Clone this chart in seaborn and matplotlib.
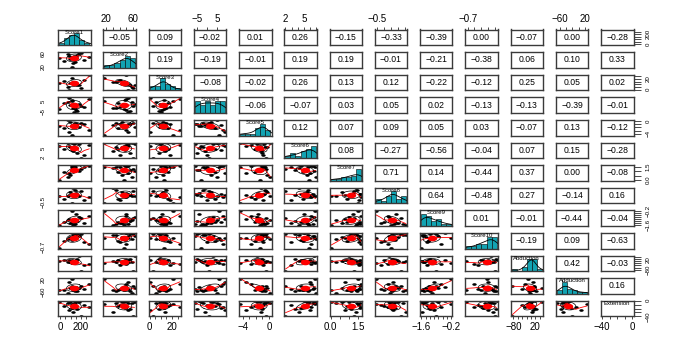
import numpy as np
import pandas as pd
import matplotlib
matplotlib.use("Agg")
import matplotlib.pyplot as plt
from matplotlib.path import Path
import seaborn as sns

# ---------------- data ----------------
names = ["Score1", "Score2", "Score3", "Score4", "Score5", "Score6", "Score7",
         "Score8", "Score9", "Score10", "Abduction", "Adduction", "Extension"]

score1 = [135, 40, 200, -10, 110, 165, 95, 280, 125, 70, 150, 230, 85, 140, 180, 118]
score2 = [52, 38, 60, 47, 18, 55, 44, 50, 30, 58, 49, 41, 53, 35, 62, 48]
score3 = [10, 16, 3, 13, 21, 8, 12, 27, 14, 6, 11, 18, 0, 15, 9, 13]
score4 = [-6, 4, 1, -3, 6, -5, 2, 8, -1, 5, -4, 0, 9, -2, 3, 7]
score5 = [-0.8, -2.1, -0.5, -1.4, -4.4, -1.0, -0.3, -2.8, -1.2, 0.2, -1.7, -0.9, -3.5, -0.6, -1.9, -1.1]
score6 = [6.5, 4.8, 2.0, 5.9, 6.8, 3.6, 5.5, 6.2, 4.2, 6.9, 5.1, 2.9, 6.0, 5.7, 6.6, 4.5]
score7 = [1.6, 0.9, 1.3, 0.0, 1.5, 1.1, 0.6, 1.65, 1.4, 0.3, 1.2, 1.55, 0.8, 1.45, 1.0, 1.6]
score8 = [-0.25, -0.40, -0.15, -0.30, -0.52, -0.28, -0.20, -0.35, -0.08, -0.32, -0.22, -0.45, -0.27, -0.12, -0.33, -0.24]
score9 = [-1.5, -1.3, -0.9, -1.6, -0.2, -1.2, -1.4, -0.7, -1.55, -1.1, -0.5, -1.35, -1.0, -1.45, -0.8, -1.25]
score10 = [-0.35, -0.50, -0.30, -0.72, -0.42, -0.28, -0.38, -0.60, -0.33, -0.45, -0.27, -0.55, -0.40, -0.31, -0.36, -0.48]
abduction = [-5, 10, -88, 2, -15, 25, 0, -25, 5, -2, 15, -40, 8, -8, 50, 12]
adduction = [-40, -50, -20, -45, 25, -55, -35, -10, -48, -68, -30, -42, 5, -52, -38, -25]
extension = [-5, -12, -40, -3, -8, -20, -2, -15, -30, -6, 0, -10, -25, -4, -1, -18]

# correlations printed in the upper panels (row by row, right of diagonal)
cor_upper = [
    [-0.05, 0.09, -0.02, 0.01, 0.26, -0.15, -0.33, -0.39, 0.00, -0.07, 0.00, -0.28],
    [0.19, -0.19, -0.01, 0.19, 0.19, -0.01, -0.21, -0.38, 0.06, 0.10, 0.33],
    [-0.08, -0.02, 0.26, 0.13, 0.12, -0.22, -0.12, 0.25, 0.05, 0.02],
    [-0.06, -0.07, 0.03, 0.05, 0.02, -0.13, -0.13, -0.39, -0.01],
    [0.12, 0.07, 0.09, 0.05, 0.03, -0.07, 0.13, -0.12],
    [0.08, -0.27, -0.56, -0.04, 0.07, 0.15, -0.28],
    [0.71, 0.14, -0.44, 0.37, 0.00, -0.08],
    [0.64, -0.48, 0.27, -0.14, 0.16],
    [0.01, -0.01, -0.44, -0.04],
    [-0.19, 0.09, -0.63],
    [0.42, -0.03],
    [0.16],
]

# axis ticks and which tick labels are printed
axis_ticks = [
    [0, 50, 100, 150, 200, 250],
    [20, 30, 40, 50, 60],
    [0, 5, 10, 15, 20, 25],
    [-5, 0, 5],
    [-4, -3, -2, -1, 0],
    [2, 3, 4, 5, 6, 7],
    [0.0, 0.5, 1.0, 1.5],
    [-0.5, -0.4, -0.3, -0.2, -0.1],
    [-1.6, -1.4, -1.2, -1.0, -0.8, -0.6, -0.4, -0.2],
    [-0.7, -0.6, -0.5, -0.4, -0.3],
    [-80, -60, -40, -20, 0, 20, 40],
    [-60, -40, -20, 0, 20],
    [-40, -30, -20, -10, 0],
]
axis_labels = [
    ["0", "", "", "", "200", ""],
    ["20", "", "", "", "60"],
    ["0", "", "", "", "20", ""],
    ["\u22125", "", "5"],
    ["\u22124", "", "", "", "0"],
    ["2", "", "", "5", "", ""],
    ["0.0", "", "", "1.5"],
    ["\u22120.5", "", "", "", ""],
    ["\u22121.6", "", "", "", "", "", "", "\u22120.2"],
    ["\u22120.7", "", "", "", ""],
    ["\u221280", "", "", "", "", "20", ""],
    ["\u221260", "", "", "", "20"],
    ["\u221240", "", "", "", "0"],
]

df = pd.DataFrame(dict(zip(names, [score1, score2, score3, score4, score5, score6, score7,
                                   score8, score9, score10, abduction, adduction, extension])))

# ---------------- helpers ----------------
def lowess(x, y, f=2/3):
    x = np.asarray(x, float); y = np.asarray(y, float)
    o = np.argsort(x); x = x[o]; y = y[o]
    n = len(x); k = max(2, int(np.ceil(f * n)))
    out = np.empty(n)
    for i in range(n):
        d = np.abs(x - x[i]); h = np.sort(d)[k - 1]
        if h <= 0: h = 1e-12
        w = np.clip(1 - (d / h) ** 3, 0, None) ** 3
        W = np.sum(w)
        xm = np.sum(w * x) / W; ym = np.sum(w * y) / W
        sxx = np.sum(w * (x - xm) ** 2)
        b = np.sum(w * (x - xm) * (y - ym)) / sxx if sxx > 0 else 0
        out[i] = ym + b * (x[i] - xm)
    return x, out

def ellipse_pts(x, y):
    x = np.asarray(x, float); y = np.asarray(y, float)
    xm, ym = x.mean(), y.mean(); xs, ys = x.std(ddof=1), y.std(ddof=1)
    r = np.corrcoef(x, y)[0, 1]
    t = np.linspace(0, 2 * np.pi, 52)
    circ = np.column_stack([np.cos(t), np.sin(t)])
    th = (np.sign(r) if abs(r) > 0 else 1) / np.sqrt(2)
    shape = np.diag([np.sqrt(1 + r), np.sqrt(1 - r)]) @ np.array([[th, th], [-th, th]])
    e = circ @ shape
    return e[:, 0] * xs + xm, e[:, 1] * ys + ym, xm, ym

def lims(v):
    v = np.asarray(v, float); lo, hi = v.min(), v.max(); p = 0.04 * (hi - lo)
    return lo - p, hi + p

# flattened dot marker (the chart is squeezed vertically)
_t = np.linspace(0, 2 * np.pi, 40)
flat_dot = Path(np.column_stack([np.cos(_t), 0.6 * np.sin(_t)]), closed=True)

# ---------------- figure ----------------
sns.set_style("white")
plt.rcParams["font.family"] = ["Liberation Sans", "DejaVu Sans"]

W, H = 692, 346
fig = plt.figure(figsize=(W / 100, H / 100), dpi=100)
fig.patch.set_facecolor("white")

nv = len(names)
x0, dx, pw = 58.0, 45.25, 32.5
y0, dy, ph = 29.5, 22.6, 15.6
teal = "#12A3B2"
xtick_fs = 7.0
ytick_fs = 4.4

for i in range(nv):
    for j in range(nv):
        left = (x0 + dx * j) / W
        bottom = 1 - (y0 + dy * i + ph) / H
        ax = fig.add_axes([left, bottom, pw / W, ph / H])
        ax.set_facecolor("white")
        for s in ax.spines.values():
            s.set_linewidth(1.0); s.set_color("#3a3a3a"); s.set_visible(True)
        xn, yn = names[j], names[i]
        if i == j:
            sns.histplot(x=df[xn], ax=ax, bins=6, stat="density", color=teal,
                         edgecolor="black", linewidth=0.4, alpha=1.0)
            sns.kdeplot(x=df[xn], ax=ax, color="black", linewidth=0.6, cut=3)
            hmax = max(p.get_height() for p in ax.patches)
            kmax = max(np.max(l.get_ydata()) for l in ax.lines)
            ax.set_ylim(0, max(hmax, kmax) * 1.3)
            ax.text(0.5, 0.99, xn, transform=ax.transAxes, ha="center", va="top",
                    fontsize=4.3, color="black")
        elif i < j:
            v = cor_upper[i][j - i - 1]
            txt = f"{v:.2f}".replace("-", "\u2212")
            ax.text(0.5, 0.5, txt, transform=ax.transAxes, ha="center", va="center",
                    fontsize=6.2, color="black")
            ax.set_ylim(*lims(df[yn]))
        else:
            sns.scatterplot(x=df[xn], y=df[yn], ax=ax, s=10, color="black",
                            marker=flat_dot, edgecolor=None, linewidth=0, legend=False)
            lx, ly = lowess(df[xn], df[yn])
            ax.plot(lx, ly, color="red", linewidth=0.6)
            ex, ey, xm, ym = ellipse_pts(df[xn], df[yn])
            ax.plot(ex, ey, color="black", linewidth=0.5)
            ax.scatter([xm], [ym], s=45, color="red", marker=flat_dot, zorder=5, linewidths=0)
            ax.set_ylim(*lims(df[yn]))
        ax.set_xlim(*lims(df[xn]))
        ax.set_xlabel(""); ax.set_ylabel("")
        ax.set_xticks([]); ax.set_yticks([])
        ax.tick_params(axis="x", length=2.5, width=0.5, pad=1.5,
                       labelsize=xtick_fs, colors="black")
        ax.tick_params(axis="y", length=5, width=0.5, pad=4,
                       labelsize=ytick_fs, colors="black")
        if i == nv - 1 and j % 2 == 0:
            ax.set_xticks(axis_ticks[j]); ax.set_xticklabels(axis_labels[j])
            ax.xaxis.set_ticks_position("bottom")
        if i == 0 and j % 2 == 1:
            ax.xaxis.tick_top()
            ax.set_xticks(axis_ticks[j]); ax.set_xticklabels(axis_labels[j])
        if j == 0 and i % 2 == 1:
            ax.set_yticks(axis_ticks[i])
            ax.set_yticklabels(axis_labels[i], rotation=90, va="center")
        if j == nv - 1 and i % 2 == 0:
            ax.yaxis.tick_right()
            ax.set_yticks(axis_ticks[i])
            ax.set_yticklabels(axis_labels[i], rotation=90, va="center")
        ax.set_xlim(*lims(df[xn]))
        if i != j:
            ax.set_ylim(*lims(df[yn]))

fig.savefig("out.png", dpi=100, facecolor="white")
